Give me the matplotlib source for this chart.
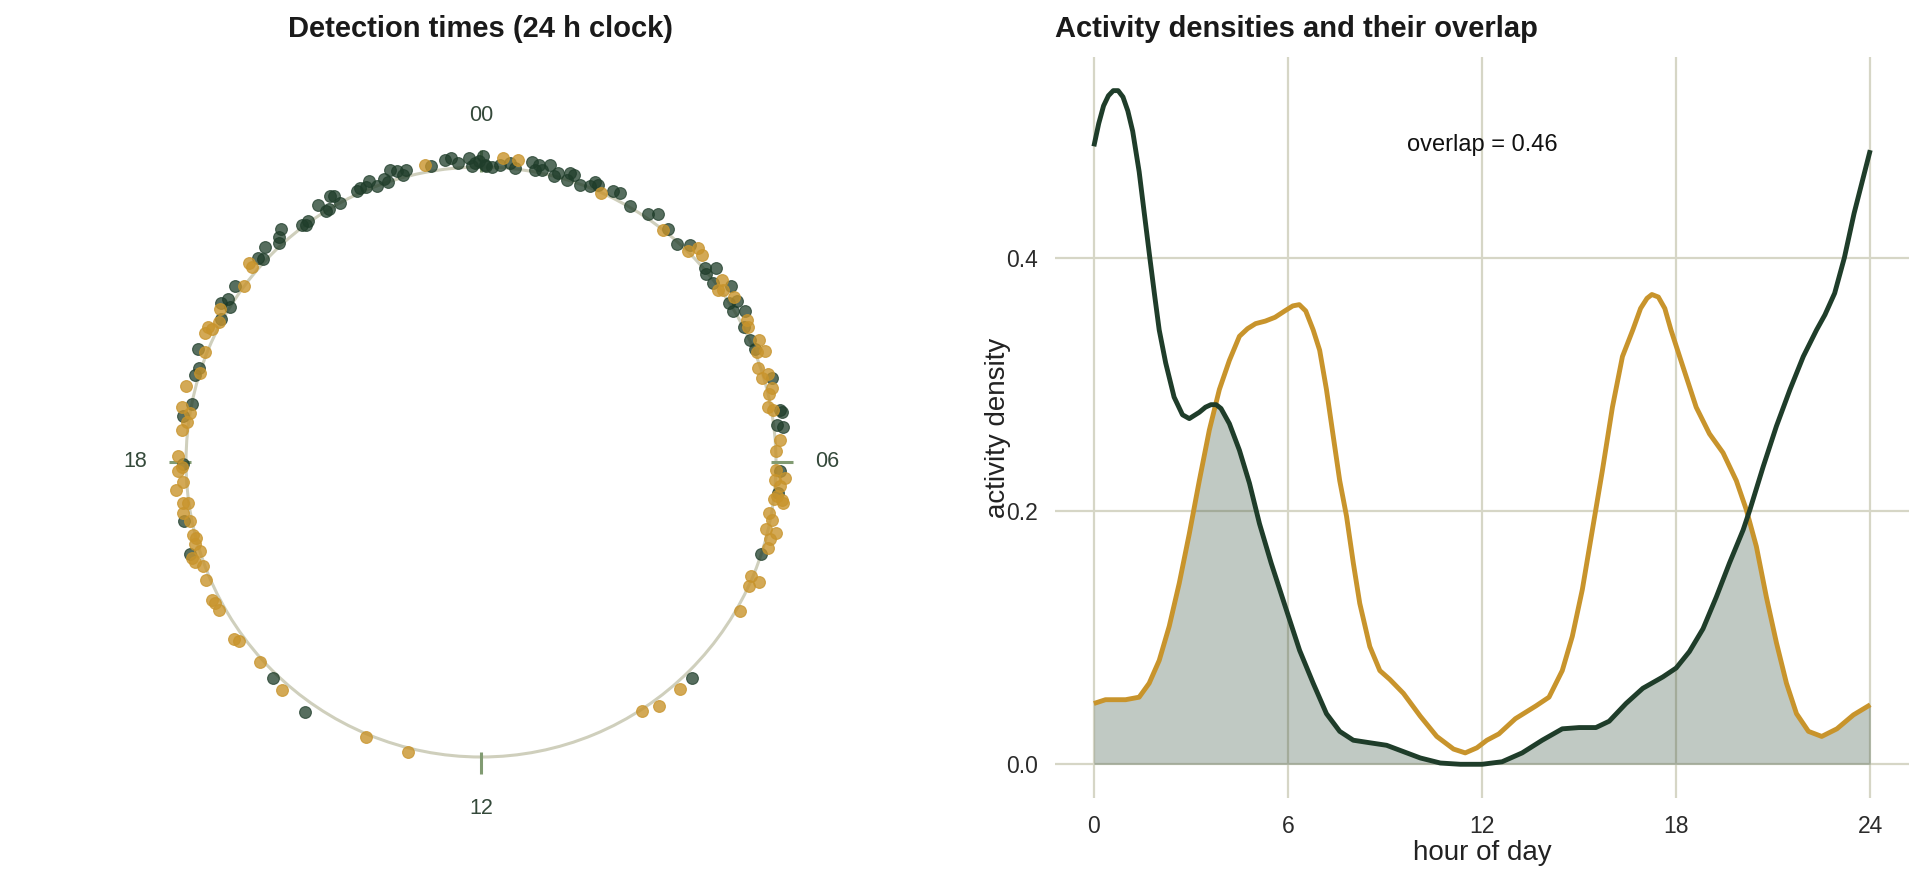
""" DETECTION TIMES ON A 24 H CLOCK + ACTIVITY DENSITY OVERLAP """

import numpy as np
import matplotlib
matplotlib.use("Agg")
import matplotlib.pyplot as plt

plt.rcParams['font.family'] = ['Liberation Sans', 'DejaVu Sans']

GREEN = '#1f3d2a'
GOLD = '#c8942c'
GRID = '#d6d6c6'

# detection times (hour of day) and radial jitter of each dot
night_hours = [17.97, 18.58, 18.76, 19.13, 19.23, 19.45, 19.92, 20.10, 20.19, 20.12,
               20.37, 20.83, 20.86, 20.99, 21.15, 21.21, 21.29, 21.53, 21.57, 21.63,
               21.84, 21.89, 21.93, 22.09, 22.03, 22.07, 22.36, 22.41, 22.49, 22.55,
               22.62, 22.74, 22.77, 22.85, 22.92, 22.99, 23.04, 23.36, 23.55, 23.63,
               23.71, 23.85, 23.88, 23.92, 23.97, 0.03, 0.05, 0.07, 0.14, 0.24,
               0.37, 0.44, 0.64, 0.70, 0.73, 0.78, 0.87, 0.95, 0.99, 1.13,
               1.14, 1.19, 1.31, 1.44, 1.48, 1.53, 1.73, 1.82, 2.01, 2.26,
               2.37, 2.59, 2.80, 2.93, 3.27, 3.36, 3.35, 3.49, 3.66, 3.82,
               3.86, 3.94, 4.02, 4.19, 4.37, 4.51, 4.93, 5.34, 5.37, 5.53,
               5.56, 6.12, 6.40, 7.21, 9.05, 17.25, 16.83, 14.93, 14.35]
night_r = [1.009, 1.021, 1.000, 1.014, 1.007, 1.032, 1.007, 1.033, 1.019, 1.000,
           1.024, 1.024, 1.011, 1.033, 1.011, 1.024, 1.039, 1.007, 1.000, 1.006,
           1.030, 1.000, 1.000, 1.000, 1.036, 1.032, 1.012, 1.015, 1.010, 1.024,
           1.000, 1.014, 1.000, 1.038, 1.026, 1.009, 1.021, 1.016, 1.030, 1.035,
           1.017, 1.031, 1.005, 1.014, 1.019, 1.036, 1.008, 1.002, 1.000, 1.010,
           1.018, 1.003, 1.033, 1.008, 1.026, 1.012, 1.035, 1.000, 1.013, 1.000,
           1.025, 1.023, 0.996, 1.005, 1.024, 1.021, 1.020, 1.028, 1.003, 1.014,
           1.032, 1.013, 0.995, 1.020, 1.004, 1.032, 0.994, 0.993, 1.035, 0.997,
           1.024, 0.994, 1.030, 1.000, 1.000, 1.004, 1.026, 1.029, 1.033, 1.010,
           1.032, 1.014, 1.013, 1.000, 1.024, 1.026, 1.034, 1.017, 1.036]

dusk_hours = [18.07, 18.41, 18.52, 18.64, 18.70, 18.96, 19.17, 19.45, 19.67, 19.76,
              19.75, 19.87, 20.03, 20.44, 20.71, 20.69, 23.29, 0.28, 0.46, 1.60,
              2.54, 2.97, 3.03, 3.13, 3.53, 3.61, 3.64, 3.79, 4.12, 4.21,
              4.42, 4.55, 4.58, 4.75, 4.89, 4.87, 5.05, 5.12, 5.27, 5.33,
              5.72, 5.86, 6.10, 6.20, 6.23, 6.31, 6.48, 6.48, 6.51, 6.44,
              6.67, 6.75, 6.88, 6.90, 7.00, 7.11, 7.53, 7.65, 7.56, 8.00,
              9.25, 9.59, 9.81, 17.93, 17.89, 17.74, 17.65, 17.48, 17.47, 17.35,
              17.23, 17.05, 17.01, 16.93, 16.83, 16.77, 16.71, 16.63, 16.45, 16.19,
              16.14, 16.04, 15.62, 15.57, 15.19, 14.74, 13.51, 12.94]
dusk_r = [1.026, 1.020, 1.007, 1.000, 1.032, 1.032, 1.000, 1.007, 1.033, 1.032,
          1.018, 1.006, 1.025, 1.000, 1.035, 1.019, 1.023, 1.033, 1.032, 1.000,
          1.000, 1.002, 1.032, 1.026, 1.025, 0.993, 1.008, 1.025, 1.022, 1.016,
          1.030, 1.006, 1.033, 0.993, 0.993, 1.018, 1.017, 1.003, 0.990, 1.006,
          1.016, 1.000, 1.002, 1.032, 1.000, 1.017, 1.000, 1.027, 1.034, 1.009,
          0.993, 1.005, 0.993, 1.028, 1.015, 1.017, 0.994, 1.000, 1.028, 1.012,
          1.023, 1.024, 1.006, 1.015, 1.026, 1.012, 1.038, 1.021, 1.002, 1.026,
          1.007, 1.009, 1.000, 1.009, 1.000, 1.033, 1.027, 1.007, 1.013, 1.026,
          1.020, 1.020, 1.031, 1.019, 1.011, 1.024, 1.011, 1.015]

# activity density curves
night_dens_h = [0.0, 0.15, 0.3, 0.45, 0.6, 0.75, 0.9, 1.05, 1.2, 1.4,
                1.55, 1.73, 1.88, 2.02, 2.22, 2.48, 2.74, 2.95, 3.26, 3.45,
                3.62, 3.78, 3.93, 4.19, 4.50, 4.81, 5.12, 5.48, 5.95, 6.36,
                6.78, 7.19, 7.60, 8.02, 8.53, 9.05, 9.57, 10.09, 10.71, 11.33,
                12.0, 12.62, 13.24, 13.86, 14.48, 15.0, 15.52, 15.93, 16.45, 16.97,
                17.59, 18.0, 18.41, 18.83, 19.24, 19.65, 20.07, 20.28, 20.69, 21.10,
                21.52, 21.93, 22.34, 22.6, 22.9, 23.2, 23.5, 23.8, 24.0]
night_dens = [0.488, 0.506, 0.520, 0.528, 0.532, 0.532, 0.527, 0.516, 0.500, 0.468,
              0.437, 0.400, 0.370, 0.343, 0.317, 0.290, 0.276, 0.273, 0.278, 0.282,
              0.284, 0.284, 0.281, 0.269, 0.248, 0.222, 0.190, 0.159, 0.122, 0.090,
              0.064, 0.040, 0.026, 0.019, 0.017, 0.015, 0.010, 0.005, 0.001, 0.000,
              0.000, 0.002, 0.009, 0.019, 0.028, 0.029, 0.029, 0.034, 0.048, 0.060,
              0.069, 0.076, 0.089, 0.107, 0.132, 0.159, 0.185, 0.201, 0.235, 0.267,
              0.296, 0.322, 0.343, 0.355, 0.372, 0.400, 0.435, 0.465, 0.485]

dusk_dens_h = [0.0, 0.36, 0.98, 1.40, 1.71, 2.02, 2.33, 2.64, 2.95, 3.26,
               3.57, 3.88, 4.19, 4.50, 4.75, 5.0, 5.3, 5.6, 5.9, 6.15,
               6.35, 6.55, 6.78, 6.98, 7.19, 7.40, 7.60, 7.81, 8.02, 8.22,
               8.53, 8.84, 9.15, 9.57, 10.09, 10.60, 11.12, 11.48, 11.84, 12.15,
               12.52, 13.03, 13.66, 14.07, 14.48, 14.79, 15.10, 15.41, 15.72, 16.03,
               16.34, 16.66, 16.9, 17.1, 17.25, 17.45, 17.65, 17.84, 18.21, 18.62,
               19.03, 19.45, 19.86, 20.17, 20.48, 20.79, 21.10, 21.41, 21.72, 22.09,
               22.50, 22.97, 23.48, 24.0]
dusk_dens = [0.048, 0.051, 0.051, 0.053, 0.064, 0.082, 0.109, 0.143, 0.182, 0.224,
             0.264, 0.296, 0.319, 0.338, 0.344, 0.348, 0.350, 0.353, 0.358, 0.362,
             0.363, 0.358, 0.343, 0.327, 0.296, 0.259, 0.224, 0.196, 0.159, 0.127,
             0.093, 0.074, 0.067, 0.056, 0.038, 0.022, 0.012, 0.009, 0.013, 0.019,
             0.024, 0.036, 0.046, 0.053, 0.074, 0.101, 0.138, 0.185, 0.232, 0.282,
             0.322, 0.343, 0.360, 0.368, 0.371, 0.369, 0.360, 0.343, 0.314, 0.282,
             0.261, 0.246, 0.224, 0.201, 0.172, 0.132, 0.096, 0.064, 0.040, 0.026,
             0.022, 0.028, 0.039, 0.047]

clock_ticks = [0, 6, 12, 18]
clock_labels = ['00', '06', '12', '18']
overlap_text = 'overlap = 0.46'

fig = plt.figure(figsize=(19.2, 8.83), dpi=100)

# ---- left: clock ----
ax1 = fig.add_axes([0.06615, 0.07588, 0.36875, 0.80181], projection='polar')
ax1.set_theta_zero_location('N')
ax1.set_theta_direction(-1)
ax1.set_ylim(0, 1.2)
ax1.set_yticks([1.0])
ax1.set_yticklabels([])
ax1.set_xticks([])
ax1.yaxis.grid(True, color='#cfcfbc', linewidth=2.2)
ax1.xaxis.grid(False)
ax1.spines['polar'].set_visible(False)

to_rad = lambda h: np.asarray(h) / 24.0 * 2 * np.pi
ax1.vlines(to_rad(clock_ticks), 0.983, 1.058, color='#819b72', linewidth=2.2)
for h, lab in zip(clock_ticks, clock_labels):
    ax1.text(to_rad(h), 1.173, lab, ha='center', va='center',
             fontsize=15.5, color='#34493a')

ax1.scatter(to_rad(night_hours), night_r, s=72, color=GREEN, alpha=0.75,
            linewidths=0.8, zorder=3)
ax1.scatter(to_rad(dusk_hours), dusk_r, s=72, color=GOLD, alpha=0.8,
            linewidths=0.8, zorder=4)

fig.text(0.2505, 0.967, 'Detection times (24 h clock)', ha='center', va='center',
         fontsize=21, fontweight='bold', color='#1a1a1a')

# ---- right: densities ----
ax2 = fig.add_axes([0.5495, 0.0963, 0.4448, 0.8392])
for s in ax2.spines.values():
    s.set_visible(False)
ax2.set_xlim(-1.2, 25.2)
ax2.set_ylim(-0.0266, 0.5586)
ax2.set_xticks([0, 6, 12, 18, 24])
ax2.set_yticks([0.0, 0.2, 0.4])
ax2.set_yticklabels(['0.0', '0.2', '0.4'])
ax2.grid(True, color=GRID, linewidth=1.6)
ax2.set_axisbelow(True)
ax2.tick_params(length=0, labelsize=16.5, labelcolor='#2b2b2b', pad=12)

# overlap area = pointwise min of the two curves on a shared hour grid
grid_h = np.union1d(night_dens_h, dusk_dens_h)
n_on = np.interp(grid_h, night_dens_h, night_dens)
d_on = np.interp(grid_h, dusk_dens_h, dusk_dens)
ax2.fill_between(grid_h, 0, np.minimum(n_on, d_on), color=GREEN, alpha=0.28,
                 linewidth=0, zorder=2)

ax2.plot(dusk_dens_h, dusk_dens, color=GOLD, linewidth=3.5, zorder=3,
         solid_joinstyle='round', solid_capstyle='butt')
ax2.plot(night_dens_h, night_dens, color=GREEN, linewidth=3.5, zorder=4,
         solid_joinstyle='round', solid_capstyle='butt')

ax2.text(12, 0.489, overlap_text, ha='center', va='center', fontsize=17,
         color='#111111')
ax2.set_xlabel('hour of day', fontsize=20, color='#222222', labelpad=2)
ax2.set_ylabel('activity density', fontsize=20, color='#222222', labelpad=-3)

fig.text(0.5495, 0.967, 'Activity densities and their overlap', ha='left',
         va='center', fontsize=21, fontweight='bold', color='#1a1a1a')

fig.savefig('out.png', dpi=100, facecolor='white')
